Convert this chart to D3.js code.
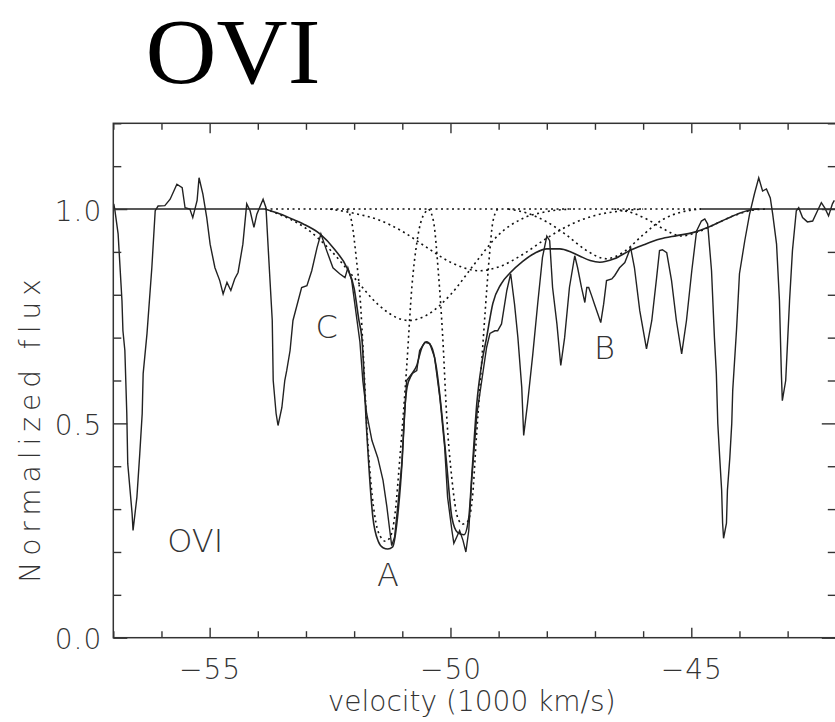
<!DOCTYPE html>
<html>
<head>
<meta charset="utf-8">
<script src="https://cdn.jsdelivr.net/npm/d3@7"></script>
<style>
  body { margin: 0; background: #fff; }
  svg { display: block; }
  .lbl { font-family: "DejaVu Sans", sans-serif; font-weight: 200; fill: #333; }
</style>
</head>
<body>
<svg id="chart"></svg>
<script>
// ticks
let majorX = [-55, -50, -45]
let minorX = [-57, -56, -54, -53, -52, -51, -49, -48, -47, -46, -44, -43, -42]
let majorY = [0, 0.5, 1.0]
let minorY = [0.1, 0.2, 0.3, 0.4, 0.6, 0.7, 0.8, 0.9, 1.1, 1.2]

// observed spectrum [velocity, flux]
let spectrum = [
  [-56.99, 1.012], [-56.97, 1.0], [-56.9, 0.942], [-56.82, 0.786], [-56.8, 0.716], [-56.76, 0.67],
  [-56.72, 0.523], [-56.7, 0.406], [-56.61, 0.29], [-56.59, 0.25], [-56.51, 0.328], [-56.45, 0.43],
  [-56.4, 0.523], [-56.38, 0.616], [-56.3, 0.71], [-56.2, 0.863], [-56.13, 0.996], [-56.07, 1.007],
  [-55.93, 1.008], [-55.82, 1.023], [-55.68, 1.058], [-55.57, 1.05], [-55.51, 1.003], [-55.41, 1.0],
  [-55.35, 0.98], [-55.26, 1.02], [-55.22, 1.073], [-55.14, 1.035], [-55.06, 0.98], [-54.99, 0.918],
  [-54.89, 0.863], [-54.79, 0.833], [-54.72, 0.802], [-54.64, 0.829], [-54.56, 0.81], [-54.48, 0.837],
  [-54.41, 0.852], [-54.31, 0.918], [-54.23, 1.012], [-54.16, 0.996], [-54.08, 0.957], [-54.02, 0.988],
  [-53.89, 1.023], [-53.83, 1.003], [-53.76, 0.86], [-53.7, 0.74], [-53.68, 0.6], [-53.62, 0.523],
  [-53.58, 0.495], [-53.5, 0.537], [-53.44, 0.6], [-53.4, 0.623], [-53.33, 0.67], [-53.27, 0.74],
  [-53.09, 0.817], [-52.98, 0.821], [-52.88, 0.856], [-52.77, 0.91], [-52.69, 0.942], [-52.57, 0.903],
  [-52.44, 0.863], [-52.3, 0.849], [-52.19, 0.84], [-52.13, 0.863], [-52.05, 0.833], [-51.94, 0.74],
  [-51.88, 0.69], [-51.82, 0.6], [-51.74, 0.523], [-51.63, 0.46], [-51.51, 0.42], [-51.4, 0.367],
  [-51.32, 0.305], [-51.26, 0.25], [-51.22, 0.215], [-51.16, 0.235], [-51.09, 0.312], [-51.01, 0.406],
  [-50.95, 0.523], [-50.91, 0.6], [-50.8, 0.616], [-50.7, 0.623], [-50.64, 0.67], [-50.53, 0.689],
  [-50.43, 0.686], [-50.33, 0.654], [-50.22, 0.56], [-50.12, 0.444], [-50.06, 0.328], [-49.97, 0.25],
  [-49.93, 0.22], [-49.87, 0.235], [-49.81, 0.25], [-49.74, 0.227], [-49.68, 0.2], [-49.62, 0.25],
  [-49.56, 0.367], [-49.45, 0.523], [-49.35, 0.6], [-49.25, 0.677], [-49.18, 0.71], [-49.08, 0.716],
  [-49.02, 0.716], [-48.94, 0.732], [-48.83, 0.81], [-48.75, 0.849], [-48.67, 0.778], [-48.6, 0.7],
  [-48.52, 0.584], [-48.48, 0.472], [-48.4, 0.546], [-48.29, 0.662], [-48.19, 0.778], [-48.09, 0.887],
  [-48.0, 0.937], [-47.94, 0.926], [-47.88, 0.817], [-47.79, 0.732], [-47.71, 0.635], [-47.63, 0.7],
  [-47.53, 0.817], [-47.42, 0.891], [-47.36, 0.863], [-47.28, 0.817], [-47.21, 0.782], [-47.17, 0.817],
  [-47.13, 0.817], [-47.07, 0.798], [-47.01, 0.778], [-46.94, 0.755], [-46.88, 0.735], [-46.82, 0.778],
  [-46.76, 0.833], [-46.65, 0.837], [-46.59, 0.845], [-46.49, 0.863], [-46.38, 0.875], [-46.26, 0.91],
  [-46.18, 0.863], [-46.07, 0.763], [-45.93, 0.674], [-45.82, 0.74], [-45.72, 0.84], [-45.66, 0.903],
  [-45.6, 0.905], [-45.51, 0.898], [-45.41, 0.833], [-45.31, 0.74], [-45.2, 0.662], [-45.1, 0.74],
  [-44.99, 0.856], [-44.89, 0.949], [-44.79, 0.972], [-44.72, 0.977], [-44.66, 0.965], [-44.58, 0.856],
  [-44.52, 0.7], [-44.48, 0.616], [-44.45, 0.5], [-44.41, 0.42], [-44.37, 0.344], [-44.35, 0.267],
  [-44.33, 0.232], [-44.27, 0.267], [-44.25, 0.344], [-44.2, 0.42], [-44.16, 0.5], [-44.14, 0.577],
  [-44.06, 0.72], [-44.0, 0.849], [-43.89, 0.926], [-43.79, 0.988], [-43.69, 1.035], [-43.6, 1.073],
  [-43.52, 1.042], [-43.44, 1.047], [-43.36, 1.026], [-43.31, 0.988], [-43.23, 0.918], [-43.17, 0.786],
  [-43.13, 0.616], [-43.11, 0.553], [-43.04, 0.6], [-43.0, 0.693], [-42.96, 0.786], [-42.9, 0.903],
  [-42.82, 0.996], [-42.77, 1.003], [-42.69, 0.98], [-42.59, 0.97], [-42.48, 0.972], [-42.38, 0.996],
  [-42.3, 1.015], [-42.23, 1.003], [-42.15, 0.984], [-42.07, 1.012], [-42.03, 1.02]
]

// total fit
let fit = [
  [-53.85, 1.0], [-53.55, 0.989], [-53.25, 0.975], [-53.0, 0.962], [-52.71, 0.942], [-52.4, 0.905],
  [-52.15, 0.863], [-52.0, 0.815], [-51.9, 0.74], [-51.84, 0.70], [-51.74, 0.484], [-51.61, 0.28],
  [-51.5, 0.225], [-51.4, 0.21], [-51.3, 0.207], [-51.2, 0.212], [-51.1, 0.28], [-51.0, 0.42],
  [-50.95, 0.53], [-50.9, 0.585], [-50.8, 0.615], [-50.7, 0.635], [-50.6, 0.675], [-50.5, 0.69],
  [-50.4, 0.68], [-50.3, 0.635], [-50.18, 0.523], [-50.08, 0.406], [-49.97, 0.28], [-49.85, 0.245],
  [-49.72, 0.24], [-49.62, 0.28], [-49.55, 0.39], [-49.45, 0.55], [-49.35, 0.64], [-49.25, 0.7],
  [-49.12, 0.78], [-48.95, 0.825], [-48.77, 0.85], [-48.5, 0.878], [-48.25, 0.897], [-48.0, 0.907],
  [-47.73, 0.907], [-47.5, 0.9], [-47.31, 0.89], [-47.1, 0.88], [-46.9, 0.876], [-46.6, 0.884],
  [-46.28, 0.903], [-46.0, 0.916], [-45.65, 0.93], [-45.3, 0.938], [-44.97, 0.945], [-44.6, 0.96],
  [-44.27, 0.977], [-44.0, 0.99], [-43.8, 0.997], [-43.6, 1.0]
]

// continuum pieces (solid outside the fit, dotted under it)
let contLeft = [[-57, 1.0], [-53.85, 1.0]]
let contRight = [[-44.8, 1.0], [-42, 1.0]]
let contMid = [[-53.85, 1.0], [-44.8, 1.0]]

// fit components (dotted)
let compC = [
  [-53.85, 1.0], [-53.5, 0.985], [-53.0, 0.955], [-52.5, 0.905], [-52.0, 0.84], [-51.5, 0.777],
  [-51.0, 0.742], [-50.85, 0.74], [-50.5, 0.752], [-50.0, 0.8], [-49.5, 0.872], [-49.0, 0.94],
  [-48.5, 0.978], [-48.0, 0.994], [-47.5, 1.0]
]
let compBroad2 = [
  [-52.5, 1.0], [-52.0, 0.99], [-51.5, 0.975], [-51.0, 0.948], [-50.5, 0.911], [-50.0, 0.876],
  [-49.4, 0.856], [-49.0, 0.865], [-48.5, 0.894], [-48.0, 0.932], [-47.5, 0.964], [-47.0, 0.985],
  [-46.5, 0.995], [-46.0, 1.0]
]
let compA = [
  [-52.15, 1.0], [-52.05, 0.97], [-51.95, 0.88], [-51.88, 0.8], [-51.8, 0.64], [-51.74, 0.5],
  [-51.65, 0.36], [-51.55, 0.27], [-51.45, 0.235], [-51.35, 0.225], [-51.25, 0.235], [-51.15, 0.29],
  [-51.05, 0.42], [-50.98, 0.52], [-50.91, 0.63], [-50.8, 0.82], [-50.7, 0.92], [-50.6, 0.975],
  [-50.45, 1.0]
]
let compA2 = [
  [-50.45, 1.0], [-50.35, 0.97], [-50.25, 0.85], [-50.16, 0.7], [-50.08, 0.52], [-49.97, 0.37],
  [-49.85, 0.28], [-49.75, 0.265], [-49.65, 0.27], [-49.55, 0.32], [-49.46, 0.47], [-49.36, 0.63],
  [-49.28, 0.76], [-49.2, 0.88], [-49.12, 0.97], [-49.02, 1.0]
]
let compB1 = [
  [-48.8, 1.0], [-48.4, 0.99], [-48.0, 0.97], [-47.6, 0.94], [-47.2, 0.905], [-46.76, 0.884],
  [-46.4, 0.9], [-46.0, 0.94], [-45.6, 0.975], [-45.2, 0.993], [-44.8, 1.0]
]
let compB2 = [
  [-46.6, 1.0], [-46.2, 0.99], [-45.9, 0.975], [-45.6, 0.955], [-45.2, 0.937], [-44.9, 0.945],
  [-44.5, 0.965], [-44.1, 0.985], [-43.7, 0.998], [-43.4, 1.0]
]
let components = [contMid, compC, compBroad2, compA, compA2, compB1, compB2]

// labels inside the plot [velocity, flux, text]
let notes = [[-52.57, 0.70, "C"], [-51.3, 0.12, "A"], [-46.8, 0.65, "B"], [-55.3, 0.20, "OVI"]]

let width = 835
let height = 722
let margin = { left: 113.3, right: 0, top: 123.3, bottom: 84.3 }

let svg = d3.select("#chart").attr("width", width).attr("height", height)

let x = d3.scaleLinear().domain([-57, -42]).range([margin.left, 835.8])
let y = d3.scaleLinear().domain([0, 1.2]).range([height - margin.bottom, margin.top])

let line = d3.line().x(d => x(d[0])).y(d => y(d[1]))
let smooth = d3.line().x(d => x(d[0])).y(d => y(d[1])).curve(d3.curveMonotoneX)

let plot = svg.append("g")

// dotted components
plot.selectAll(".comp")
  .data(components)
  .enter()
  .append("path")
  .attr("class", "comp")
  .attr("d", smooth)
  .attr("fill", "none")
  .attr("stroke", "#111")
  .attr("stroke-width", 1.6)
  .attr("stroke-dasharray", "2,3.5")

plot.selectAll(".cont")
  .data([contLeft, contRight])
  .enter()
  .append("path")
  .attr("d", line)
  .attr("fill", "none")
  .attr("stroke", "#222")
  .attr("stroke-width", 1.4)

plot.append("path")
  .datum(fit)
  .attr("d", smooth)
  .attr("fill", "none")
  .attr("stroke", "#222")
  .attr("stroke-width", 1.6)

plot.append("path")
  .datum(spectrum)
  .attr("d", line)
  .attr("fill", "none")
  .attr("stroke", "#222")
  .attr("stroke-width", 1.4)

// frame
svg.append("rect")
  .attr("x", x.range()[0])
  .attr("y", y.range()[1])
  .attr("width", x.range()[1] - x.range()[0])
  .attr("height", y.range()[0] - y.range()[1])
  .attr("fill", "none")
  .attr("stroke", "#333")
  .attr("stroke-width", 1.5)

function tidy(g) {
  g.select(".domain").remove()
  g.selectAll("line").attr("stroke", "#333").attr("stroke-width", 1.4)
}

let yBottom = y.range()[0]
let yTop = y.range()[1]

svg.append("g").attr("transform", `translate(0,${yBottom})`)
  .call(d3.axisBottom(x).tickValues(minorX).tickSize(-6.5).tickFormat(""))
  .call(tidy)
svg.append("g").attr("transform", `translate(0,${yTop})`)
  .call(d3.axisTop(x).tickValues(minorX).tickSize(-6.5).tickFormat(""))
  .call(tidy)
svg.append("g").attr("transform", `translate(0,${yTop})`)
  .call(d3.axisTop(x).tickValues(majorX).tickSize(-10).tickFormat(""))
  .call(tidy)

let xMajor = svg.append("g").attr("transform", `translate(0,${yBottom})`)
  .call(d3.axisBottom(x).tickValues(majorX).tickSize(-10).tickFormat(d3.format("d")))
  .call(tidy)
xMajor.selectAll("text")
  .attr("class", "lbl")
  .attr("y", 41)
  .attr("dy", null)
  .attr("fill", null)
  .style("font-size", "28px")
  .style("letter-spacing", "1px")

let xLeft = x.range()[0]
let xRight = x.range()[1]

svg.append("g").attr("transform", `translate(${xLeft},0)`)
  .call(d3.axisLeft(y).tickValues(minorY).tickSize(-8).tickFormat(""))
  .call(tidy)
svg.append("g").attr("transform", `translate(${xRight},0)`)
  .call(d3.axisRight(y).tickValues(minorY).tickSize(-8).tickFormat(""))
  .call(tidy)
svg.append("g").attr("transform", `translate(${xRight},0)`)
  .call(d3.axisRight(y).tickValues(majorY).tickSize(-14).tickFormat(""))
  .call(tidy)

let yMajor = svg.append("g").attr("transform", `translate(${xLeft},0)`)
  .call(d3.axisLeft(y).tickValues(majorY).tickSize(-14).tickFormat(d3.format(".1f")))
  .call(tidy)
yMajor.selectAll("text")
  .attr("class", "lbl")
  .attr("x", -11)
  .attr("dy", "0.4em")
  .attr("fill", null)
  .style("font-size", "28px")
  .style("letter-spacing", "1px")

// axis titles
svg.append("text")
  .attr("class", "lbl")
  .attr("x", (xLeft + 830) / 2)
  .attr("y", 711)
  .attr("text-anchor", "middle")
  .style("font-size", "28px")
  .text("velocity (1000 km/s)")

svg.append("text")
  .attr("class", "lbl")
  .attr("transform", "translate(40,428) rotate(-90)")
  .attr("text-anchor", "middle")
  .style("font-size", "28px")
  .style("letter-spacing", "6px")
  .text("Normalized flux")

// annotations
svg.selectAll(".note")
  .data(notes)
  .enter()
  .append("text")
  .attr("class", "lbl note")
  .attr("x", d => x(d[0]))
  .attr("y", d => y(d[1]))
  .attr("text-anchor", "middle")
  .style("font-size", "32px")
  .text(d => d[2])

// big title
svg.append("text")
  .attr("x", 233)
  .attr("y", 83)
  .attr("text-anchor", "middle")
  .attr("textLength", 175)
  .attr("lengthAdjust", "spacingAndGlyphs")
  .style("font-family", "'Liberation Serif', 'Times New Roman', serif")
  .style("font-size", "93px")
  .attr("fill", "#000")
  .text("OVI")
</script>
</body>
</html>
